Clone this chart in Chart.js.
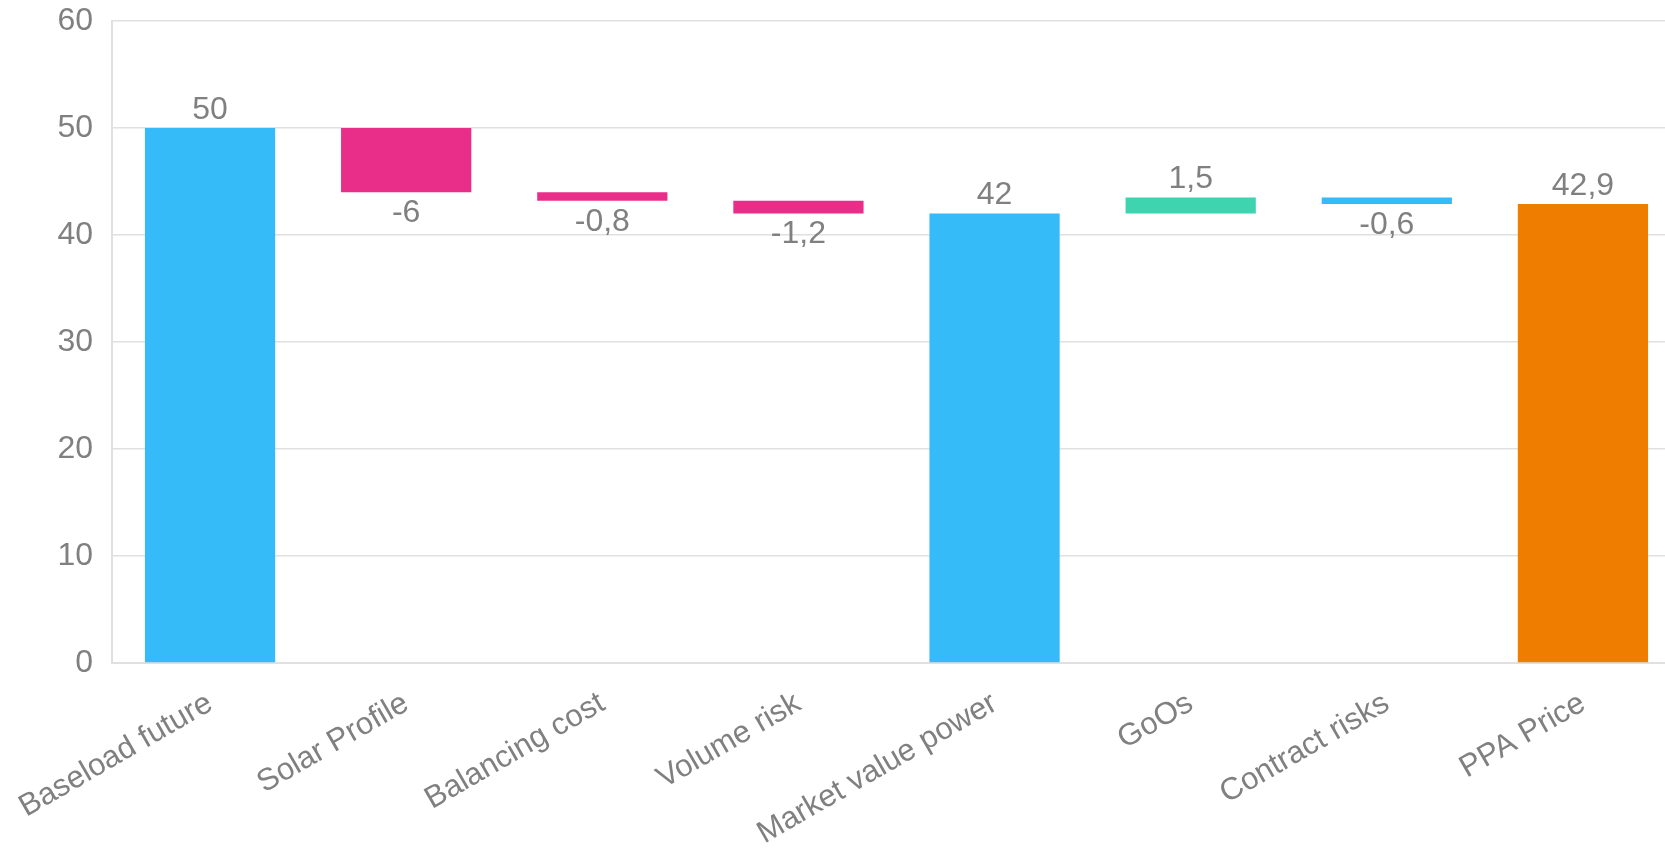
<!DOCTYPE html>
<html>
<head>
<meta charset="utf-8">
<script src="https://cdn.jsdelivr.net/npm/chart.js@4/dist/chart.umd.min.js"></script>
<style>
  html, body { margin: 0; padding: 0; background: #fff; overflow: hidden; }
  /* the plot runs a little past the right edge of the picture, as in the original */
  #wrap { width: 1681px; height: 851px; }
</style>
</head>
<body>
<div id="wrap"><canvas id="chart"></canvas></div>
<script>
const categories = ["Baseload future", "Solar Profile", "Balancing cost", "Volume risk",
  "Market value power", "GoOs", "Contract risks", "PPA Price"];
// value of each step; totals start from zero, the rest float on the running total
const values = [50, -6, -0.8, -1.2, 42, 1.5, -0.6, 42.9];
const isTotal = [true, false, false, false, true, false, false, true];
const barColors = ["#35BBF8", "#E82E88", "#E82E88", "#E82E88", "#35BBF8", "#3DD4AF", "#35BBF8", "#EF7D00"];
const yTicks = [0, 10, 20, 30, 40, 50, 60];

const TEXT = "#808080";
const GRID = "#e0e0e0";
const FONT = "'Liberation Sans', Arial, sans-serif";

let running = 0;
const ranges = values.map((v, i) => {
  if (isTotal[i]) { running = v; return [0, v]; }
  const from = running;
  running = +(running + v).toFixed(2);
  return [from, running];
});

const fmt = (v) => String(v).replace(".", ",");

const valueLabels = {
  id: "valueLabels",
  afterDatasetsDraw(chart) {
    const { ctx } = chart;
    const meta = chart.getDatasetMeta(0);
    const y = chart.scales.y;
    ctx.save();
    ctx.font = "32px " + FONT;
    ctx.fillStyle = TEXT;
    ctx.textAlign = "center";
    ctx.textBaseline = "middle";
    meta.data.forEach((bar, i) => {
      const [lo, hi] = ranges[i];
      if (values[i] >= 0) {
        ctx.fillText(fmt(values[i]), bar.x, y.getPixelForValue(Math.max(lo, hi)) - 18);
      } else {
        ctx.fillText(fmt(values[i]), bar.x, y.getPixelForValue(Math.min(lo, hi)) + 21);
      }
    });
    ctx.restore();
  }
};

new Chart(document.getElementById("chart"), {
  type: "bar",
  data: {
    labels: categories,
    datasets: [{
      data: ranges,
      backgroundColor: barColors,
      borderWidth: 0,
      borderSkipped: false,
      barPercentage: 0.664,
      categoryPercentage: 1,
    }]
  },
  options: {
    responsive: true,
    maintainAspectRatio: false,
    animation: false,
    layout: { padding: { top: 21, right: 0, left: 0, bottom: 0 } },
    plugins: { legend: { display: false }, tooltip: { enabled: false } },
    scales: {
      x: {
        grid: { display: false, drawTicks: false },
        border: { display: true, color: GRID, width: 2 },
        ticks: {
          color: TEXT,
          font: { family: FONT, size: 31 },
          minRotation: 30,
          maxRotation: 30,
          autoSkip: false,
          padding: 22,
        },
        afterFit(scale) {
          scale.height = 188;
          scale.paddingLeft = 0;
          scale.paddingRight = 0;
        },
      },
      y: {
        min: 0,
        max: 60,
        afterBuildTicks(scale) { scale.ticks = yTicks.map(v => ({ value: v })); },
        grid: { color: GRID, lineWidth: 1.5, drawTicks: false },
        border: { display: true, color: GRID, width: 2 },
        ticks: {
          color: TEXT,
          font: { family: FONT, size: 32 },
          padding: 19,
        },
        afterFit(scale) {
          scale.width = 112;
          scale.paddingTop = 0;
          scale.paddingBottom = 0;
        },
      },
    },
  },
  plugins: [valueLabels],
});
</script>
</body>
</html>
